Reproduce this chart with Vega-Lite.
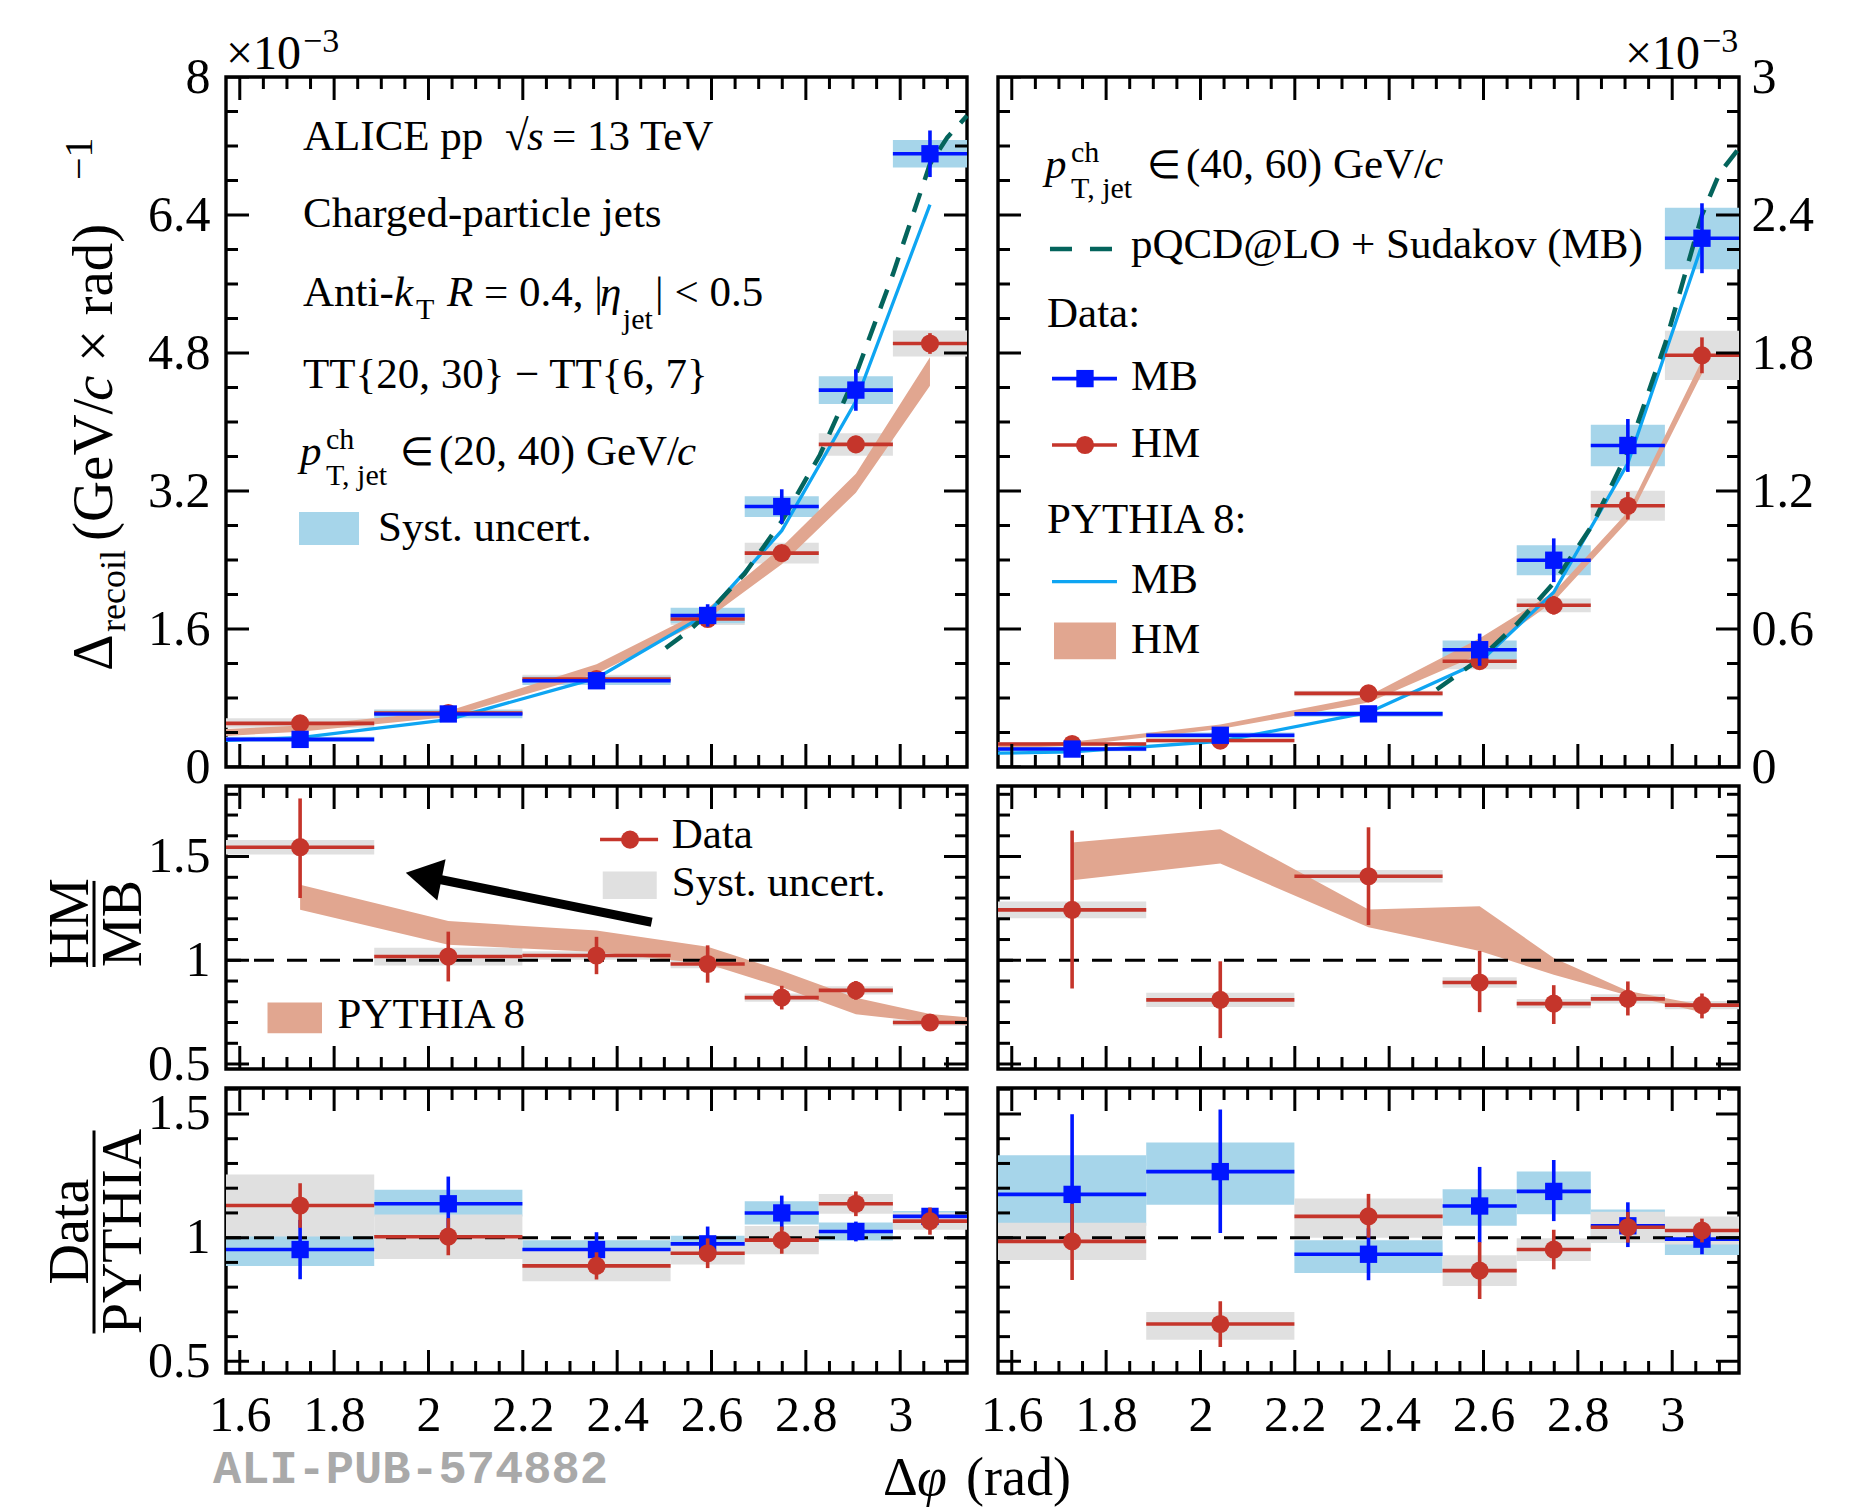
{
"$schema":"https://vega.github.io/schema/vega-lite/v6.json",
"autosize":{"type":"none"},
"padding":{"left":226,"top":77,"right":1645,"bottom":1433},
"background":"white",
"config":{
 "view":{"stroke":"#000","strokeWidth":3.4},
 "font":"Liberation Serif",
 "axis":{"labels":false,"ticks":false,"domain":false,"grid":false,"tickSize":0,"titleOpacity":0,"labelFont":"Liberation Serif","labelFontSize":50,"labelColor":"#000","labelFlush":false,"labelOverlap":false},
 "text":{"font":"Liberation Serif","color":"#000"}
},
"datasets":{
 "xt":[{"v":1.6,"k":"M"},{"v":1.65,"k":"m"},{"v":1.7,"k":"m"},{"v":1.75,"k":"m"},{"v":1.8,"k":"M"},{"v":1.85,"k":"m"},{"v":1.9,"k":"m"},{"v":1.95,"k":"m"},{"v":2.0,"k":"M"},{"v":2.05,"k":"m"},{"v":2.1,"k":"m"},{"v":2.15,"k":"m"},{"v":2.2,"k":"M"},{"v":2.25,"k":"m"},{"v":2.3,"k":"m"},{"v":2.35,"k":"m"},{"v":2.4,"k":"M"},{"v":2.45,"k":"m"},{"v":2.5,"k":"m"},{"v":2.55,"k":"m"},{"v":2.6,"k":"M"},{"v":2.65,"k":"m"},{"v":2.7,"k":"m"},{"v":2.75,"k":"m"},{"v":2.8,"k":"M"},{"v":2.85,"k":"m"},{"v":2.9,"k":"m"},{"v":2.95,"k":"m"},{"v":3.0,"k":"M"},{"v":3.05,"k":"m"},{"v":3.1,"k":"m"}],
 "ytl":[{"v":0,"k":"M"},{"v":0.4,"k":"m"},{"v":0.8,"k":"m"},{"v":1.2,"k":"m"},{"v":1.6,"k":"M"},{"v":2.0,"k":"m"},{"v":2.4,"k":"m"},{"v":2.8,"k":"m"},{"v":3.2,"k":"M"},{"v":3.6,"k":"m"},{"v":4.0,"k":"m"},{"v":4.4,"k":"m"},{"v":4.8,"k":"M"},{"v":5.2,"k":"m"},{"v":5.6,"k":"m"},{"v":6.0,"k":"m"},{"v":6.4,"k":"M"},{"v":6.8,"k":"m"},{"v":7.2,"k":"m"},{"v":7.6,"k":"m"},{"v":8,"k":"M"}],
 "ytr":[{"v":0,"k":"M"},{"v":0.15,"k":"m"},{"v":0.3,"k":"m"},{"v":0.45,"k":"m"},{"v":0.6,"k":"M"},{"v":0.75,"k":"m"},{"v":0.9,"k":"m"},{"v":1.05,"k":"m"},{"v":1.2,"k":"M"},{"v":1.35,"k":"m"},{"v":1.5,"k":"m"},{"v":1.65,"k":"m"},{"v":1.8,"k":"M"},{"v":1.95,"k":"m"},{"v":2.1,"k":"m"},{"v":2.25,"k":"m"},{"v":2.4,"k":"M"},{"v":2.55,"k":"m"},{"v":2.7,"k":"m"},{"v":2.85,"k":"m"},{"v":3,"k":"M"}],
 "yr":[{"v":0.5,"k":"M"},{"v":0.6,"k":"m"},{"v":0.7,"k":"m"},{"v":0.8,"k":"m"},{"v":0.9,"k":"m"},{"v":1,"k":"M"},{"v":1.1,"k":"m"},{"v":1.2,"k":"m"},{"v":1.3,"k":"m"},{"v":1.4,"k":"m"},{"v":1.5,"k":"M"},{"v":1.6,"k":"m"},{"v":1.7,"k":"m"},{"v":1.8,"k":"m"}],
 "one":[{"v":1}],
 "tlm":[
  {"a":1.5707963,"b":1.885,"c":1.7279,"v":0.32,"e0":0.3,"e1":0.34,"s0":0.29,"s1":0.35},
  {"a":1.885,"b":2.1991,"c":2.042,"v":0.615,"e0":0.585,"e1":0.645,"s0":0.565,"s1":0.665},
  {"a":2.1991,"b":2.5133,"c":2.3562,"v":1.0,"e0":0.96,"e1":1.04,"s0":0.95,"s1":1.05},
  {"a":2.5133,"b":2.6704,"c":2.5918,"v":1.757,"e0":1.627,"e1":1.887,"s0":1.667,"s1":1.847},
  {"a":2.6704,"b":2.8274,"c":2.7489,"v":3.02,"e0":2.82,"e1":3.22,"s0":2.9,"s1":3.14},
  {"a":2.8274,"b":2.9845,"c":2.906,"v":4.37,"e0":4.13,"e1":4.61,"s0":4.21,"s1":4.53},
  {"a":2.9845,"b":3.1415927,"c":3.0631,"v":7.11,"e0":6.84,"e1":7.38,"s0":6.95,"s1":7.27}],
 "tlh":[
  {"a":1.5707963,"b":1.885,"c":1.7279,"v":0.506,"e0":0.486,"e1":0.526,"s0":0.455,"s1":0.565},
  {"a":1.885,"b":2.1991,"c":2.042,"v":0.626,"e0":0.596,"e1":0.656,"s0":0.586,"s1":0.666},
  {"a":2.1991,"b":2.5133,"c":2.3562,"v":1.02,"e0":0.98,"e1":1.06,"s0":0.97,"s1":1.07},
  {"a":2.5133,"b":2.6704,"c":2.5918,"v":1.716,"e0":1.636,"e1":1.796,"s0":1.646,"s1":1.786},
  {"a":2.6704,"b":2.8274,"c":2.7489,"v":2.48,"e0":2.4,"e1":2.56,"s0":2.36,"s1":2.6},
  {"a":2.8274,"b":2.9845,"c":2.906,"v":3.74,"e0":3.64,"e1":3.84,"s0":3.61,"s1":3.87},
  {"a":2.9845,"b":3.1415927,"c":3.0631,"v":4.91,"e0":4.79,"e1":5.03,"s0":4.76,"s1":5.06}],
 "tlp":[
  {"x":1.5707963,"mb":0.31,"lo":0.36,"hi":0.44},
  {"x":1.7279,"mb":0.34,"lo":0.41,"hi":0.48},
  {"x":2.042,"mb":0.55,"lo":0.58,"hi":0.65},
  {"x":2.3562,"mb":1.03,"lo":1.08,"hi":1.19},
  {"x":2.5918,"mb":1.78,"lo":1.72,"hi":1.84},
  {"x":2.7489,"mb":2.74,"lo":2.35,"hi":2.55},
  {"x":2.906,"mb":4.24,"lo":3.18,"hi":3.4},
  {"x":3.0631,"mb":6.52,"lo":4.42,"hi":4.75}],
 "tlq":[{"x":2.503,"v":1.38},{"x":2.55,"v":1.57},{"x":2.5918,"v":1.78},{"x":2.67,"v":2.24},{"x":2.7489,"v":2.85},{"x":2.83,"v":3.62},{"x":2.906,"v":4.55},{"x":2.985,"v":5.72},{"x":3.0631,"v":6.99},{"x":3.1,"v":7.3},{"x":3.1415927,"v":7.55}],
 "trm":[
  {"a":1.5707963,"b":1.885,"c":1.7279,"v":0.078,"e0":0.063,"e1":0.093,"s0":0.068,"s1":0.088},
  {"a":1.885,"b":2.1991,"c":2.042,"v":0.138,"e0":0.118,"e1":0.158,"s0":0.126,"s1":0.15},
  {"a":2.1991,"b":2.5133,"c":2.3562,"v":0.231,"e0":0.211,"e1":0.251,"s0":0.219,"s1":0.243},
  {"a":2.5133,"b":2.6704,"c":2.5918,"v":0.51,"e0":0.44,"e1":0.58,"s0":0.47,"s1":0.55},
  {"a":2.6704,"b":2.8274,"c":2.7489,"v":0.899,"e0":0.804,"e1":0.994,"s0":0.834,"s1":0.964},
  {"a":2.8274,"b":2.9845,"c":2.906,"v":1.398,"e0":1.283,"e1":1.513,"s0":1.308,"s1":1.488},
  {"a":2.9845,"b":3.1415927,"c":3.0631,"v":2.299,"e0":2.147,"e1":2.451,"s0":2.164,"s1":2.432}],
 "trh":[
  {"a":1.5707963,"b":1.885,"c":1.7279,"v":0.1,"e0":0.09,"e1":0.11,"s0":0.092,"s1":0.108},
  {"a":1.885,"b":2.1991,"c":2.042,"v":0.115,"e0":0.103,"e1":0.127,"s0":0.107,"s1":0.123},
  {"a":2.1991,"b":2.5133,"c":2.3562,"v":0.32,"e0":0.3,"e1":0.34,"s0":0.308,"s1":0.332},
  {"a":2.5133,"b":2.6704,"c":2.5918,"v":0.46,"e0":0.43,"e1":0.49,"s0":0.425,"s1":0.495},
  {"a":2.6704,"b":2.8274,"c":2.7489,"v":0.703,"e0":0.663,"e1":0.743,"s0":0.673,"s1":0.733},
  {"a":2.8274,"b":2.9845,"c":2.906,"v":1.136,"e0":1.076,"e1":1.196,"s0":1.071,"s1":1.201},
  {"a":2.9845,"b":3.1415927,"c":3.0631,"v":1.79,"e0":1.712,"e1":1.868,"s0":1.683,"s1":1.897}],
 "trp":[
  {"x":1.5707963,"mb":0.06,"lo":0.08,"hi":0.098},
  {"x":1.7279,"mb":0.066,"lo":0.092,"hi":0.11},
  {"x":2.042,"mb":0.112,"lo":0.165,"hi":0.185},
  {"x":2.3562,"mb":0.237,"lo":0.28,"hi":0.31},
  {"x":2.5918,"mb":0.456,"lo":0.49,"hi":0.56},
  {"x":2.7489,"mb":0.76,"lo":0.72,"hi":0.76},
  {"x":2.906,"mb":1.32,"lo":1.07,"hi":1.11},
  {"x":3.0631,"mb":2.27,"lo":1.71,"hi":1.77}],
 "trq":[{"x":2.501,"v":0.337},{"x":2.5918,"v":0.47},{"x":2.67,"v":0.62},{"x":2.7489,"v":0.8},{"x":2.83,"v":1.05},{"x":2.906,"v":1.37},{"x":2.985,"v":1.84},{"x":3.0631,"v":2.4},{"x":3.1,"v":2.58},{"x":3.1415927,"v":2.69}],
 "ml":[
  {"a":1.5707963,"b":1.885,"c":1.7279,"v":1.545,"e0":1.3,"e1":1.78,"s0":1.51,"s1":1.58},
  {"a":1.885,"b":2.1991,"c":2.042,"v":1.018,"e0":0.898,"e1":1.138,"s0":0.975,"s1":1.061},
  {"a":2.1991,"b":2.5133,"c":2.3562,"v":1.023,"e0":0.933,"e1":1.113,"s0":1.003,"s1":1.043},
  {"a":2.5133,"b":2.6704,"c":2.5918,"v":0.982,"e0":0.892,"e1":1.072,"s0":0.962,"s1":1.002},
  {"a":2.6704,"b":2.8274,"c":2.7489,"v":0.82,"e0":0.763,"e1":0.877,"s0":0.8,"s1":0.84},
  {"a":2.8274,"b":2.9845,"c":2.906,"v":0.855,"e0":0.81,"e1":0.9,"s0":0.835,"s1":0.875},
  {"a":2.9845,"b":3.1415927,"c":3.0631,"v":0.7,"e0":0.68,"e1":0.72,"s0":0.685,"s1":0.715}],
 "mlp":[{"x":1.7279,"lo":1.243,"hi":1.364},{"x":2.042,"lo":1.075,"hi":1.189},{"x":2.3562,"lo":1.04,"hi":1.143},{"x":2.5918,"lo":0.982,"hi":1.065},{"x":2.7489,"lo":0.87,"hi":0.95},{"x":2.906,"lo":0.74,"hi":0.82},{"x":3.0631,"lo":0.7,"hi":0.741},{"x":3.1415927,"lo":0.69,"hi":0.725}],
 "mr":[
  {"a":1.5707963,"b":1.885,"c":1.7279,"v":1.243,"e0":0.864,"e1":1.625,"s0":1.203,"s1":1.283},
  {"a":1.885,"b":2.1991,"c":2.042,"v":0.809,"e0":0.625,"e1":0.995,"s0":0.775,"s1":0.843},
  {"a":2.1991,"b":2.5133,"c":2.3562,"v":1.405,"e0":1.17,"e1":1.641,"s0":1.375,"s1":1.435},
  {"a":2.5133,"b":2.6704,"c":2.5918,"v":0.893,"e0":0.75,"e1":1.045,"s0":0.868,"s1":0.918},
  {"a":2.6704,"b":2.8274,"c":2.7489,"v":0.791,"e0":0.693,"e1":0.88,"s0":0.769,"s1":0.813},
  {"a":2.8274,"b":2.9845,"c":2.906,"v":0.814,"e0":0.734,"e1":0.898,"s0":0.792,"s1":0.836},
  {"a":2.9845,"b":3.1415927,"c":3.0631,"v":0.784,"e0":0.72,"e1":0.84,"s0":0.764,"s1":0.804}],
 "mrp":[{"x":1.7279,"lo":1.386,"hi":1.568},{"x":2.042,"lo":1.466,"hi":1.632},{"x":2.3562,"lo":1.159,"hi":1.245},{"x":2.5918,"lo":1.045,"hi":1.261},{"x":2.7489,"lo":0.93,"hi":1.011},{"x":2.906,"lo":0.83,"hi":0.852},{"x":3.0631,"lo":0.75,"hi":0.784}],
 "blm":[
  {"a":1.5707963,"b":1.885,"c":1.7279,"v":0.952,"e0":0.832,"e1":1.072,"s0":0.886,"s1":1.014},
  {"a":1.885,"b":2.1991,"c":2.042,"v":1.137,"e0":1.027,"e1":1.247,"s0":1.086,"s1":1.194},
  {"a":2.1991,"b":2.5133,"c":2.3562,"v":0.952,"e0":0.882,"e1":1.022,"s0":0.914,"s1":0.99},
  {"a":2.5133,"b":2.6704,"c":2.5918,"v":0.975,"e0":0.905,"e1":1.045,"s0":0.942,"s1":1.008},
  {"a":2.6704,"b":2.8274,"c":2.7489,"v":1.1,"e0":1.03,"e1":1.17,"s0":1.053,"s1":1.147},
  {"a":2.8274,"b":2.9845,"c":2.906,"v":1.025,"e0":0.985,"e1":1.065,"s0":0.989,"s1":1.061},
  {"a":2.9845,"b":3.1415927,"c":3.0631,"v":1.086,"e0":1.056,"e1":1.116,"s0":1.064,"s1":1.108}],
 "blh":[
  {"a":1.5707963,"b":1.885,"c":1.7279,"v":1.13,"e0":1.04,"e1":1.22,"s0":1.005,"s1":1.255},
  {"a":1.885,"b":2.1991,"c":2.042,"v":1.004,"e0":0.929,"e1":1.079,"s0":0.914,"s1":1.094},
  {"a":2.1991,"b":2.5133,"c":2.3562,"v":0.886,"e0":0.831,"e1":0.941,"s0":0.824,"s1":0.948},
  {"a":2.5133,"b":2.6704,"c":2.5918,"v":0.937,"e0":0.877,"e1":0.997,"s0":0.892,"s1":0.982},
  {"a":2.6704,"b":2.8274,"c":2.7489,"v":0.99,"e0":0.935,"e1":1.045,"s0":0.933,"s1":1.047},
  {"a":2.8274,"b":2.9845,"c":2.906,"v":1.137,"e0":1.087,"e1":1.187,"s0":1.097,"s1":1.177},
  {"a":2.9845,"b":3.1415927,"c":3.0631,"v":1.067,"e0":1.012,"e1":1.122,"s0":1.032,"s1":1.102}],
 "brm":[
  {"a":1.5707963,"b":1.885,"c":1.7279,"v":1.175,"e0":0.981,"e1":1.499,"s0":1.048,"s1":1.333},
  {"a":1.885,"b":2.1991,"c":2.042,"v":1.267,"e0":1.019,"e1":1.518,"s0":1.133,"s1":1.385},
  {"a":2.1991,"b":2.5133,"c":2.3562,"v":0.933,"e0":0.828,"e1":1.038,"s0":0.857,"s1":0.99},
  {"a":2.5133,"b":2.6704,"c":2.5918,"v":1.128,"e0":0.98,"e1":1.286,"s0":1.048,"s1":1.196},
  {"a":2.6704,"b":2.8274,"c":2.7489,"v":1.187,"e0":1.067,"e1":1.314,"s0":1.095,"s1":1.267},
  {"a":2.8274,"b":2.9845,"c":2.906,"v":1.048,"e0":0.962,"e1":1.143,"s0":0.981,"s1":1.114},
  {"a":2.9845,"b":3.1415927,"c":3.0631,"v":0.994,"e0":0.933,"e1":1.03,"s0":0.93,"s1":1.042}],
 "brh":[
  {"a":1.5707963,"b":1.885,"c":1.7279,"v":0.985,"e0":0.829,"e1":1.137,"s0":0.91,"s1":1.06},
  {"a":1.885,"b":2.1991,"c":2.042,"v":0.651,"e0":0.558,"e1":0.743,"s0":0.587,"s1":0.7},
  {"a":2.1991,"b":2.5133,"c":2.3562,"v":1.086,"e0":1.0,"e1":1.177,"s0":1.0,"s1":1.158},
  {"a":2.5133,"b":2.6704,"c":2.5918,"v":0.867,"e0":0.752,"e1":0.982,"s0":0.805,"s1":0.929},
  {"a":2.6704,"b":2.8274,"c":2.7489,"v":0.952,"e0":0.872,"e1":1.032,"s0":0.906,"s1":0.998},
  {"a":2.8274,"b":2.9845,"c":2.906,"v":1.042,"e0":0.98,"e1":1.104,"s0":0.979,"s1":1.105},
  {"a":2.9845,"b":3.1415927,"c":3.0631,"v":1.029,"e0":0.981,"e1":1.077,"s0":0.972,"s1":1.086}],
 "tl_r":[{"x":1.734,"y":7.148,"t":"ALICE pp"},{"x":2.1623,"y":7.148,"t":"√"},{"x":2.2619,"y":7.148,"t":"= 13 TeV"},{"x":1.734,"y":6.261,"t":"Charged-particle jets"},{"x":1.734,"y":5.345,"t":"Anti-"},{"x":2.1178,"y":5.345,"t":"= 0.4, |"},{"x":2.4803,"y":5.345,"t":"| < 0.5"},{"x":1.734,"y":4.397,"t":"TT{20, 30} − TT{6, 7}"},{"x":2.0223,"y":3.501,"t":"(20, 40) GeV/"},{"x":1.893,"y":2.62,"t":"Syst. uncert."}],
 "tl_sym":[{"x":1.9397,"y":3.501,"t":"∈"}],
 "tl_i":[{"x":2.2089,"y":7.148,"t":"s"},{"x":1.927,"y":5.345,"t":"k"},{"x":2.0393,"y":5.345,"t":"R"},{"x":2.3637,"y":5.345,"t":"η"},{"x":1.7277,"y":3.501,"t":"p"},{"x":2.5266,"y":3.501,"t":"c"}],
 "tl_s":[{"x":1.9736,"y":5.194,"t":"T"},{"x":2.412,"y":5.078,"t":"jet"},{"x":1.7828,"y":3.687,"t":"ch"},{"x":1.7828,"y":3.27,"t":"T, jet"}],
 "tl_box":[{"x0":1.7256,"x1":1.8528,"y0":2.574,"y1":2.957}],
 "tl_eb":[{"x":1.5708,"y":8.089,"t":"×10"}],
 "tl_es":[{"x":1.734,"y":8.293,"t":"−3"}],
 "ax_r":[{"x":1.3291,"y":1.113,"t":"Δ"},{"x":1.3291,"y":2.62,"t":"(GeV/"},{"x":1.3291,"y":4.696,"t":"× rad)"}],
 "ax_i":[{"x":1.3291,"y":4.243,"t":"c"}],
 "ax_s":[{"x":1.3567,"y":1.565,"t":"recoil"}],
 "ax_sup":[{"x":1.2868,"y":6.806,"t":"−1"}],
 "tr_r":[{"x":1.9693,"y":2.561,"t":"(40, 60) GeV/"},{"x":1.8528,"y":2.213,"t":"pQCD@LO + Sudakov (MB)"},{"x":1.6747,"y":1.915,"t":"Data:"},{"x":1.8528,"y":1.639,"t":"MB"},{"x":1.8528,"y":1.3496,"t":"HM"},{"x":1.6747,"y":1.017,"t":"PYTHIA 8:"},{"x":1.8528,"y":0.7565,"t":"MB"},{"x":1.8528,"y":0.4957,"t":"HM"}],
 "tr_sym":[{"x":1.8867,"y":2.561,"t":"∈"}],
 "tr_i":[{"x":1.6704,"y":2.561,"t":"p"},{"x":2.4739,"y":2.561,"t":"c"}],
 "tr_s":[{"x":1.7256,"y":2.63,"t":"ch"},{"x":1.7256,"y":2.474,"t":"T, jet"}],
 "tr_eb":[{"x":2.9,"y":3.0335,"t":"×10"}],
 "tr_es":[{"x":3.0633,"y":3.11,"t":"−3"}],
 "trl_q":[{"x0":1.681,"x1":1.8167,"y":2.252}],
 "trl_mb":[{"x0":1.6853,"x1":1.823,"xc":1.7552,"y":1.6887}],
 "trl_hm":[{"x0":1.6853,"x1":1.823,"xc":1.7552,"y":1.4}],
 "trl_pmb":[{"x0":1.6853,"x1":1.823,"y":0.8061}],
 "trl_phm":[{"x0":1.6895,"x1":1.821,"y0":0.4687,"y1":0.6287}],
 "ml_r":[{"x":2.5157,"y":1.5417,"t":"Data"},{"x":2.5157,"y":1.3116,"t":"Syst. uncert."},{"x":1.8072,"y":0.6753,"t":"PYTHIA 8"}],
 "mll_d":[{"x0":2.3637,"x1":2.4867,"xc":2.4273,"y":1.5818}],
 "mll_s":[{"x0":2.3694,"x1":2.4839,"y0":1.2957,"y1":1.4274}],
 "mll_p":[{"x0":1.6588,"x1":1.7743,"y0":0.6478,"y1":0.796}],
 "arr_s":[{"x0":2.4731,"y0":1.1833,"x1":2.0033,"y1":1.399}],
 "arr_h":[{"x":1.9897,"y":1.4047}],
 "mf":[{"x":1.2772,"y":1.1775,"t":"HM"},{"x":1.3898,"y":1.1775,"t":"MB"}],
 "mfl":[{"x":1.291,"y0":0.9677,"y1":1.3825}],
 "bf":[{"x":1.2772,"y":1.0247,"t":"Data"},{"x":1.3898,"y":1.0247,"t":"PYTHIA"}],
 "bfl":[{"x":1.291,"y0":0.6125,"y1":1.4333}],
 "xt_r":[{"x":2.9636,"y":-0.0393,"t":"Δ"},{"x":3.1396,"y":-0.0393,"t":"(rad)"}],
 "xt_i":[{"x":3.0357,"y":-0.0393,"t":"φ"}],
 "ali":[{"x":1.5432,"y":0.0094,"t":"ALI-PUB-574882"}]
},
"columns":2,
"spacing":{"row":19,"column":31},
"bounds":"flush",
"concat":[
{"width":741,"height":690,"layer":[
 {"data":{"name":"tlh"},"mark":{"type":"rect","color":"#e0e0e0"},"encoding":{"x":{"field":"a","type":"quantitative","scale":{"domain":[1.5707963,3.1415927],"nice":false,"zero":false},"axis":{"title":null}},"x2":{"field":"b"},"y":{"field":"s0","type":"quantitative","scale":{"domain":[0,8],"nice":false,"zero":false},"axis":{"title":null,"labels":true,"values":[0,1.6,3.2,4.8,6.4,8],"format":"~g","labelPadding":16}},"y2":{"field":"s1"}}},
 {"data":{"name":"tlm"},"mark":{"type":"rect","color":"#a6d5ea"},"encoding":{"x":{"field":"a","type":"quantitative"},"x2":{"field":"b"},"y":{"field":"s0","type":"quantitative"},"y2":{"field":"s1"}}},
 {"data":{"name":"tlp"},"mark":{"type":"area","color":"#e1a690","opacity":1},"encoding":{"x":{"field":"x","type":"quantitative"},"y":{"field":"lo","type":"quantitative"},"y2":{"field":"hi"}}},
 {"data":{"name":"tlp"},"mark":{"type":"line","color":"#0ea5f2","strokeWidth":3.3},"encoding":{"x":{"field":"x","type":"quantitative"},"y":{"field":"mb","type":"quantitative"}}},
 {"data":{"name":"tlq"},"mark":{"type":"line","color":"#04645c","strokeWidth":4.5,"strokeDash":[20,14]},"encoding":{"x":{"field":"x","type":"quantitative"},"y":{"field":"v","type":"quantitative"}}},
 {"data":{"name":"tlh"},"mark":{"type":"rule","color":"#c5352b","strokeWidth":3.6},"encoding":{"x":{"field":"a","type":"quantitative"},"x2":{"field":"b"},"y":{"field":"v","type":"quantitative"}}},
 {"data":{"name":"tlh"},"mark":{"type":"rule","color":"#c5352b","strokeWidth":3.6},"encoding":{"x":{"field":"c","type":"quantitative"},"y":{"field":"e0","type":"quantitative"},"y2":{"field":"e1"}}},
 {"data":{"name":"tlh"},"mark":{"type":"point","shape":"circle","filled":true,"size":330,"opacity":1,"color":"#c5352b"},"encoding":{"x":{"field":"c","type":"quantitative"},"y":{"field":"v","type":"quantitative"}}},
 {"data":{"name":"tlm"},"mark":{"type":"rule","color":"#0016ff","strokeWidth":3.6},"encoding":{"x":{"field":"a","type":"quantitative"},"x2":{"field":"b"},"y":{"field":"v","type":"quantitative"}}},
 {"data":{"name":"tlm"},"mark":{"type":"rule","color":"#0016ff","strokeWidth":3.6},"encoding":{"x":{"field":"c","type":"quantitative"},"y":{"field":"e0","type":"quantitative"},"y2":{"field":"e1"}}},
 {"data":{"name":"tlm"},"mark":{"type":"point","shape":"square","filled":true,"size":300,"opacity":1,"color":"#0016ff"},"encoding":{"x":{"field":"c","type":"quantitative"},"y":{"field":"v","type":"quantitative"}}},
 {"data":{"name":"tl_box"},"mark":{"type":"rect","color":"#a6d5ea"},"encoding":{"x":{"field":"x0","type":"quantitative"},"x2":{"field":"x1"},"y":{"field":"y0","type":"quantitative"},"y2":{"field":"y1"}}},
 {"data":{"name":"tl_r"},"mark":{"type":"text","fontSize":43,"align":"left","baseline":"alphabetic"},"encoding":{"x":{"field":"x","type":"quantitative"},"y":{"field":"y","type":"quantitative"},"text":{"field":"t","type":"nominal"}}},
 {"data":{"name":"tl_sym"},"mark":{"type":"text","fontSize":39,"align":"left","baseline":"alphabetic"},"encoding":{"x":{"field":"x","type":"quantitative"},"y":{"field":"y","type":"quantitative"},"text":{"field":"t","type":"nominal"}}},
 {"data":{"name":"tl_i"},"mark":{"type":"text","fontSize":43,"fontStyle":"italic","align":"left","baseline":"alphabetic"},"encoding":{"x":{"field":"x","type":"quantitative"},"y":{"field":"y","type":"quantitative"},"text":{"field":"t","type":"nominal"}}},
 {"data":{"name":"tl_s"},"mark":{"type":"text","fontSize":30,"align":"left","baseline":"alphabetic"},"encoding":{"x":{"field":"x","type":"quantitative"},"y":{"field":"y","type":"quantitative"},"text":{"field":"t","type":"nominal"}}},
 {"data":{"name":"tl_eb"},"mark":{"type":"text","fontSize":48,"align":"left","baseline":"alphabetic"},"encoding":{"x":{"field":"x","type":"quantitative"},"y":{"field":"y","type":"quantitative"},"text":{"field":"t","type":"nominal"}}},
 {"data":{"name":"tl_es"},"mark":{"type":"text","fontSize":34,"align":"left","baseline":"alphabetic"},"encoding":{"x":{"field":"x","type":"quantitative"},"y":{"field":"y","type":"quantitative"},"text":{"field":"t","type":"nominal"}}},
 {"data":{"name":"ax_r"},"mark":{"type":"text","fontSize":57,"angle":270,"align":"left","baseline":"alphabetic"},"encoding":{"x":{"field":"x","type":"quantitative"},"y":{"field":"y","type":"quantitative"},"text":{"field":"t","type":"nominal"}}},
 {"data":{"name":"ax_i"},"mark":{"type":"text","fontSize":57,"fontStyle":"italic","angle":270,"align":"left","baseline":"alphabetic"},"encoding":{"x":{"field":"x","type":"quantitative"},"y":{"field":"y","type":"quantitative"},"text":{"field":"t","type":"nominal"}}},
 {"data":{"name":"ax_s"},"mark":{"type":"text","fontSize":36,"angle":270,"align":"left","baseline":"alphabetic"},"encoding":{"x":{"field":"x","type":"quantitative"},"y":{"field":"y","type":"quantitative"},"text":{"field":"t","type":"nominal"}}},
 {"data":{"name":"ax_sup"},"mark":{"type":"text","fontSize":40,"angle":270,"align":"left","baseline":"alphabetic"},"encoding":{"x":{"field":"x","type":"quantitative"},"y":{"field":"y","type":"quantitative"},"text":{"field":"t","type":"nominal"}}},
 {"data":{"name":"xt"},"mark":{"type":"tick","orient":"vertical","thickness":3,"clip":true,"color":"#000","opacity":1},"encoding":{"x":{"field":"v","type":"quantitative"},"y":{"datum":0,"type":"quantitative"},"size":{"field":"k","type":"ordinal","scale":{"domain":["M","m"],"range":[46,24]},"legend":null}}},
 {"data":{"name":"xt"},"mark":{"type":"tick","orient":"vertical","thickness":3,"clip":true,"color":"#000","opacity":1},"encoding":{"x":{"field":"v","type":"quantitative"},"y":{"datum":8,"type":"quantitative"},"size":{"field":"k","type":"ordinal","legend":null}}},
 {"data":{"name":"ytl"},"mark":{"type":"tick","orient":"horizontal","thickness":3,"clip":true,"color":"#000","opacity":1},"encoding":{"y":{"field":"v","type":"quantitative"},"x":{"datum":1.5707963,"type":"quantitative"},"size":{"field":"k","type":"ordinal","legend":null}}},
 {"data":{"name":"ytl"},"mark":{"type":"tick","orient":"horizontal","thickness":3,"clip":true,"color":"#000","opacity":1},"encoding":{"y":{"field":"v","type":"quantitative"},"x":{"datum":3.1415927,"type":"quantitative"},"size":{"field":"k","type":"ordinal","legend":null}}}
]},
{"width":741,"height":690,"layer":[
 {"data":{"name":"trh"},"mark":{"type":"rect","color":"#e0e0e0"},"encoding":{"x":{"field":"a","type":"quantitative","scale":{"domain":[1.5707963,3.1415927],"nice":false,"zero":false},"axis":{"title":null}},"x2":{"field":"b"},"y":{"field":"s0","type":"quantitative","scale":{"domain":[0,3],"nice":false,"zero":false},"axis":{"title":null,"labels":true,"orient":"right","values":[0,0.6,1.2,1.8,2.4,3],"format":"~g","labelPadding":12}},"y2":{"field":"s1"}}},
 {"data":{"name":"trm"},"mark":{"type":"rect","color":"#a6d5ea"},"encoding":{"x":{"field":"a","type":"quantitative"},"x2":{"field":"b"},"y":{"field":"s0","type":"quantitative"},"y2":{"field":"s1"}}},
 {"data":{"name":"trp"},"mark":{"type":"area","color":"#e1a690","opacity":1},"encoding":{"x":{"field":"x","type":"quantitative"},"y":{"field":"lo","type":"quantitative"},"y2":{"field":"hi"}}},
 {"data":{"name":"trp"},"mark":{"type":"line","color":"#0ea5f2","strokeWidth":3.3},"encoding":{"x":{"field":"x","type":"quantitative"},"y":{"field":"mb","type":"quantitative"}}},
 {"data":{"name":"trq"},"mark":{"type":"line","color":"#04645c","strokeWidth":4.5,"strokeDash":[20,14]},"encoding":{"x":{"field":"x","type":"quantitative"},"y":{"field":"v","type":"quantitative"}}},
 {"data":{"name":"trh"},"mark":{"type":"rule","color":"#c5352b","strokeWidth":3.6},"encoding":{"x":{"field":"a","type":"quantitative"},"x2":{"field":"b"},"y":{"field":"v","type":"quantitative"}}},
 {"data":{"name":"trh"},"mark":{"type":"rule","color":"#c5352b","strokeWidth":3.6},"encoding":{"x":{"field":"c","type":"quantitative"},"y":{"field":"e0","type":"quantitative"},"y2":{"field":"e1"}}},
 {"data":{"name":"trh"},"mark":{"type":"point","shape":"circle","filled":true,"size":330,"opacity":1,"color":"#c5352b"},"encoding":{"x":{"field":"c","type":"quantitative"},"y":{"field":"v","type":"quantitative"}}},
 {"data":{"name":"trm"},"mark":{"type":"rule","color":"#0016ff","strokeWidth":3.6},"encoding":{"x":{"field":"a","type":"quantitative"},"x2":{"field":"b"},"y":{"field":"v","type":"quantitative"}}},
 {"data":{"name":"trm"},"mark":{"type":"rule","color":"#0016ff","strokeWidth":3.6},"encoding":{"x":{"field":"c","type":"quantitative"},"y":{"field":"e0","type":"quantitative"},"y2":{"field":"e1"}}},
 {"data":{"name":"trm"},"mark":{"type":"point","shape":"square","filled":true,"size":300,"opacity":1,"color":"#0016ff"},"encoding":{"x":{"field":"c","type":"quantitative"},"y":{"field":"v","type":"quantitative"}}},
 {"data":{"name":"trl_q"},"mark":{"type":"rule","color":"#04645c","strokeWidth":4.5,"strokeDash":[22,18]},"encoding":{"x":{"field":"x0","type":"quantitative"},"x2":{"field":"x1"},"y":{"field":"y","type":"quantitative"}}},
 {"data":{"name":"trl_mb"},"mark":{"type":"rule","color":"#0016ff","strokeWidth":3.6},"encoding":{"x":{"field":"x0","type":"quantitative"},"x2":{"field":"x1"},"y":{"field":"y","type":"quantitative"}}},
 {"data":{"name":"trl_mb"},"mark":{"type":"point","shape":"square","filled":true,"size":300,"opacity":1,"color":"#0016ff"},"encoding":{"x":{"field":"xc","type":"quantitative"},"y":{"field":"y","type":"quantitative"}}},
 {"data":{"name":"trl_hm"},"mark":{"type":"rule","color":"#c5352b","strokeWidth":3.6},"encoding":{"x":{"field":"x0","type":"quantitative"},"x2":{"field":"x1"},"y":{"field":"y","type":"quantitative"}}},
 {"data":{"name":"trl_hm"},"mark":{"type":"point","shape":"circle","filled":true,"size":330,"opacity":1,"color":"#c5352b"},"encoding":{"x":{"field":"xc","type":"quantitative"},"y":{"field":"y","type":"quantitative"}}},
 {"data":{"name":"trl_pmb"},"mark":{"type":"rule","color":"#0ea5f2","strokeWidth":3.3},"encoding":{"x":{"field":"x0","type":"quantitative"},"x2":{"field":"x1"},"y":{"field":"y","type":"quantitative"}}},
 {"data":{"name":"trl_phm"},"mark":{"type":"rect","color":"#e1a690"},"encoding":{"x":{"field":"x0","type":"quantitative"},"x2":{"field":"x1"},"y":{"field":"y0","type":"quantitative"},"y2":{"field":"y1"}}},
 {"data":{"name":"tr_r"},"mark":{"type":"text","fontSize":43,"align":"left","baseline":"alphabetic"},"encoding":{"x":{"field":"x","type":"quantitative"},"y":{"field":"y","type":"quantitative"},"text":{"field":"t","type":"nominal"}}},
 {"data":{"name":"tr_sym"},"mark":{"type":"text","fontSize":39,"align":"left","baseline":"alphabetic"},"encoding":{"x":{"field":"x","type":"quantitative"},"y":{"field":"y","type":"quantitative"},"text":{"field":"t","type":"nominal"}}},
 {"data":{"name":"tr_i"},"mark":{"type":"text","fontSize":43,"fontStyle":"italic","align":"left","baseline":"alphabetic"},"encoding":{"x":{"field":"x","type":"quantitative"},"y":{"field":"y","type":"quantitative"},"text":{"field":"t","type":"nominal"}}},
 {"data":{"name":"tr_s"},"mark":{"type":"text","fontSize":30,"align":"left","baseline":"alphabetic"},"encoding":{"x":{"field":"x","type":"quantitative"},"y":{"field":"y","type":"quantitative"},"text":{"field":"t","type":"nominal"}}},
 {"data":{"name":"tr_eb"},"mark":{"type":"text","fontSize":48,"align":"left","baseline":"alphabetic"},"encoding":{"x":{"field":"x","type":"quantitative"},"y":{"field":"y","type":"quantitative"},"text":{"field":"t","type":"nominal"}}},
 {"data":{"name":"tr_es"},"mark":{"type":"text","fontSize":34,"align":"left","baseline":"alphabetic"},"encoding":{"x":{"field":"x","type":"quantitative"},"y":{"field":"y","type":"quantitative"},"text":{"field":"t","type":"nominal"}}},
 {"data":{"name":"xt"},"mark":{"type":"tick","orient":"vertical","thickness":3,"clip":true,"color":"#000","opacity":1},"encoding":{"x":{"field":"v","type":"quantitative"},"y":{"datum":0,"type":"quantitative"},"size":{"field":"k","type":"ordinal","scale":{"domain":["M","m"],"range":[46,24]},"legend":null}}},
 {"data":{"name":"xt"},"mark":{"type":"tick","orient":"vertical","thickness":3,"clip":true,"color":"#000","opacity":1},"encoding":{"x":{"field":"v","type":"quantitative"},"y":{"datum":3,"type":"quantitative"},"size":{"field":"k","type":"ordinal","legend":null}}},
 {"data":{"name":"ytr"},"mark":{"type":"tick","orient":"horizontal","thickness":3,"clip":true,"color":"#000","opacity":1},"encoding":{"y":{"field":"v","type":"quantitative"},"x":{"datum":1.5707963,"type":"quantitative"},"size":{"field":"k","type":"ordinal","legend":null}}},
 {"data":{"name":"ytr"},"mark":{"type":"tick","orient":"horizontal","thickness":3,"clip":true,"color":"#000","opacity":1},"encoding":{"y":{"field":"v","type":"quantitative"},"x":{"datum":3.1415927,"type":"quantitative"},"size":{"field":"k","type":"ordinal","legend":null}}}
]},
{"width":741,"height":283,"layer":[
 {"data":{"name":"ml"},"mark":{"type":"rect","color":"#e0e0e0"},"encoding":{"x":{"field":"a","type":"quantitative","scale":{"domain":[1.5707963,3.1415927],"nice":false,"zero":false},"axis":{"title":null}},"x2":{"field":"b"},"y":{"field":"s0","type":"quantitative","scale":{"domain":[0.476,1.84],"nice":false,"zero":false},"axis":{"title":null,"labels":true,"values":[0.5,1,1.5],"format":"~g","labelPadding":16}},"y2":{"field":"s1"}}},
 {"data":{"name":"mlp"},"mark":{"type":"area","color":"#e1a690","opacity":1},"encoding":{"x":{"field":"x","type":"quantitative"},"y":{"field":"lo","type":"quantitative"},"y2":{"field":"hi"}}},
 {"data":{"name":"one"},"mark":{"type":"rule","color":"#000","strokeWidth":3,"strokeDash":[20,13]},"encoding":{"y":{"field":"v","type":"quantitative"}}},
 {"data":{"name":"ml"},"mark":{"type":"rule","color":"#c5352b","strokeWidth":3.6},"encoding":{"x":{"field":"a","type":"quantitative"},"x2":{"field":"b"},"y":{"field":"v","type":"quantitative"}}},
 {"data":{"name":"ml"},"mark":{"type":"rule","color":"#c5352b","strokeWidth":3.6},"encoding":{"x":{"field":"c","type":"quantitative"},"y":{"field":"e0","type":"quantitative"},"y2":{"field":"e1"}}},
 {"data":{"name":"ml"},"mark":{"type":"point","shape":"circle","filled":true,"size":330,"opacity":1,"color":"#c5352b"},"encoding":{"x":{"field":"c","type":"quantitative"},"y":{"field":"v","type":"quantitative"}}},
 {"data":{"name":"mll_s"},"mark":{"type":"rect","color":"#e0e0e0"},"encoding":{"x":{"field":"x0","type":"quantitative"},"x2":{"field":"x1"},"y":{"field":"y0","type":"quantitative"},"y2":{"field":"y1"}}},
 {"data":{"name":"mll_p"},"mark":{"type":"rect","color":"#e1a690"},"encoding":{"x":{"field":"x0","type":"quantitative"},"x2":{"field":"x1"},"y":{"field":"y0","type":"quantitative"},"y2":{"field":"y1"}}},
 {"data":{"name":"mll_d"},"mark":{"type":"rule","color":"#c5352b","strokeWidth":3.6},"encoding":{"x":{"field":"x0","type":"quantitative"},"x2":{"field":"x1"},"y":{"field":"y","type":"quantitative"}}},
 {"data":{"name":"mll_d"},"mark":{"type":"point","shape":"circle","filled":true,"size":330,"opacity":1,"color":"#c5352b"},"encoding":{"x":{"field":"xc","type":"quantitative"},"y":{"field":"y","type":"quantitative"}}},
 {"data":{"name":"ml_r"},"mark":{"type":"text","fontSize":43,"align":"left","baseline":"alphabetic"},"encoding":{"x":{"field":"x","type":"quantitative"},"y":{"field":"y","type":"quantitative"},"text":{"field":"t","type":"nominal"}}},
 {"data":{"name":"arr_s"},"mark":{"type":"rule","color":"#000","strokeWidth":9},"encoding":{"x":{"field":"x0","type":"quantitative"},"y":{"field":"y0","type":"quantitative"},"x2":{"field":"x1"},"y2":{"field":"y1"}}},
 {"data":{"name":"arr_h"},"mark":{"type":"point","shape":"triangle-left","filled":true,"size":1764,"angle":11.4,"opacity":1,"color":"#000"},"encoding":{"x":{"field":"x","type":"quantitative"},"y":{"field":"y","type":"quantitative"}}},
 {"data":{"name":"mf"},"mark":{"type":"text","fontSize":56,"angle":270,"align":"center","baseline":"alphabetic"},"encoding":{"x":{"field":"x","type":"quantitative"},"y":{"field":"y","type":"quantitative"},"text":{"field":"t","type":"nominal"}}},
 {"data":{"name":"mfl"},"mark":{"type":"rule","color":"#000","strokeWidth":3},"encoding":{"x":{"field":"x","type":"quantitative"},"y":{"field":"y0","type":"quantitative"},"y2":{"field":"y1"}}},
 {"data":{"name":"xt"},"mark":{"type":"tick","orient":"vertical","thickness":3,"clip":true,"color":"#000","opacity":1},"encoding":{"x":{"field":"v","type":"quantitative"},"y":{"datum":0.476,"type":"quantitative"},"size":{"field":"k","type":"ordinal","scale":{"domain":["M","m"],"range":[44,22]},"legend":null}}},
 {"data":{"name":"xt"},"mark":{"type":"tick","orient":"vertical","thickness":3,"clip":true,"color":"#000","opacity":1},"encoding":{"x":{"field":"v","type":"quantitative"},"y":{"datum":1.84,"type":"quantitative"},"size":{"field":"k","type":"ordinal","legend":null}}},
 {"data":{"name":"yr"},"mark":{"type":"tick","orient":"horizontal","thickness":3,"clip":true,"color":"#000","opacity":1},"encoding":{"y":{"field":"v","type":"quantitative"},"x":{"datum":1.5707963,"type":"quantitative"},"size":{"field":"k","type":"ordinal","legend":null}}},
 {"data":{"name":"yr"},"mark":{"type":"tick","orient":"horizontal","thickness":3,"clip":true,"color":"#000","opacity":1},"encoding":{"y":{"field":"v","type":"quantitative"},"x":{"datum":3.1415927,"type":"quantitative"},"size":{"field":"k","type":"ordinal","legend":null}}}
]},
{"width":741,"height":283,"layer":[
 {"data":{"name":"mr"},"mark":{"type":"rect","color":"#e0e0e0"},"encoding":{"x":{"field":"a","type":"quantitative","scale":{"domain":[1.5707963,3.1415927],"nice":false,"zero":false},"axis":{"title":null}},"x2":{"field":"b"},"y":{"field":"s0","type":"quantitative","scale":{"domain":[0.476,1.84],"nice":false,"zero":false},"axis":{"title":null}},"y2":{"field":"s1"}}},
 {"data":{"name":"mrp"},"mark":{"type":"area","color":"#e1a690","opacity":1},"encoding":{"x":{"field":"x","type":"quantitative"},"y":{"field":"lo","type":"quantitative"},"y2":{"field":"hi"}}},
 {"data":{"name":"one"},"mark":{"type":"rule","color":"#000","strokeWidth":3,"strokeDash":[20,13]},"encoding":{"y":{"field":"v","type":"quantitative"}}},
 {"data":{"name":"mr"},"mark":{"type":"rule","color":"#c5352b","strokeWidth":3.6},"encoding":{"x":{"field":"a","type":"quantitative"},"x2":{"field":"b"},"y":{"field":"v","type":"quantitative"}}},
 {"data":{"name":"mr"},"mark":{"type":"rule","color":"#c5352b","strokeWidth":3.6},"encoding":{"x":{"field":"c","type":"quantitative"},"y":{"field":"e0","type":"quantitative"},"y2":{"field":"e1"}}},
 {"data":{"name":"mr"},"mark":{"type":"point","shape":"circle","filled":true,"size":330,"opacity":1,"color":"#c5352b"},"encoding":{"x":{"field":"c","type":"quantitative"},"y":{"field":"v","type":"quantitative"}}},
 {"data":{"name":"xt"},"mark":{"type":"tick","orient":"vertical","thickness":3,"clip":true,"color":"#000","opacity":1},"encoding":{"x":{"field":"v","type":"quantitative"},"y":{"datum":0.476,"type":"quantitative"},"size":{"field":"k","type":"ordinal","scale":{"domain":["M","m"],"range":[44,22]},"legend":null}}},
 {"data":{"name":"xt"},"mark":{"type":"tick","orient":"vertical","thickness":3,"clip":true,"color":"#000","opacity":1},"encoding":{"x":{"field":"v","type":"quantitative"},"y":{"datum":1.84,"type":"quantitative"},"size":{"field":"k","type":"ordinal","legend":null}}},
 {"data":{"name":"yr"},"mark":{"type":"tick","orient":"horizontal","thickness":3,"clip":true,"color":"#000","opacity":1},"encoding":{"y":{"field":"v","type":"quantitative"},"x":{"datum":1.5707963,"type":"quantitative"},"size":{"field":"k","type":"ordinal","legend":null}}},
 {"data":{"name":"yr"},"mark":{"type":"tick","orient":"horizontal","thickness":3,"clip":true,"color":"#000","opacity":1},"encoding":{"y":{"field":"v","type":"quantitative"},"x":{"datum":3.1415927,"type":"quantitative"},"size":{"field":"k","type":"ordinal","legend":null}}}
]},
{"width":741,"height":285,"layer":[
 {"data":{"name":"blm"},"mark":{"type":"rect","color":"#a6d5ea"},"encoding":{"x":{"field":"a","type":"quantitative","scale":{"domain":[1.5707963,3.1415927],"nice":false,"zero":false},"axis":{"title":null,"labels":true,"values":[1.6,1.8,2,2.2,2.4,2.6,2.8,3],"format":"~g","labelPadding":17}},"x2":{"field":"b"},"y":{"field":"s0","type":"quantitative","scale":{"domain":[0.453,1.605],"nice":false,"zero":false},"axis":{"title":null,"labels":true,"values":[0.5,1,1.5],"format":"~g","labelPadding":16}},"y2":{"field":"s1"}}},
 {"data":{"name":"blh"},"mark":{"type":"rect","color":"#e0e0e0"},"encoding":{"x":{"field":"a","type":"quantitative"},"x2":{"field":"b"},"y":{"field":"s0","type":"quantitative"},"y2":{"field":"s1"}}},
 {"data":{"name":"one"},"mark":{"type":"rule","color":"#000","strokeWidth":3,"strokeDash":[20,13]},"encoding":{"y":{"field":"v","type":"quantitative"}}},
 {"data":{"name":"blm"},"mark":{"type":"rule","color":"#0016ff","strokeWidth":3.6},"encoding":{"x":{"field":"a","type":"quantitative"},"x2":{"field":"b"},"y":{"field":"v","type":"quantitative"}}},
 {"data":{"name":"blm"},"mark":{"type":"rule","color":"#0016ff","strokeWidth":3.6},"encoding":{"x":{"field":"c","type":"quantitative"},"y":{"field":"e0","type":"quantitative"},"y2":{"field":"e1"}}},
 {"data":{"name":"blm"},"mark":{"type":"point","shape":"square","filled":true,"size":300,"opacity":1,"color":"#0016ff"},"encoding":{"x":{"field":"c","type":"quantitative"},"y":{"field":"v","type":"quantitative"}}},
 {"data":{"name":"blh"},"mark":{"type":"rule","color":"#c5352b","strokeWidth":3.6},"encoding":{"x":{"field":"a","type":"quantitative"},"x2":{"field":"b"},"y":{"field":"v","type":"quantitative"}}},
 {"data":{"name":"blh"},"mark":{"type":"rule","color":"#c5352b","strokeWidth":3.6},"encoding":{"x":{"field":"c","type":"quantitative"},"y":{"field":"e0","type":"quantitative"},"y2":{"field":"e1"}}},
 {"data":{"name":"blh"},"mark":{"type":"point","shape":"circle","filled":true,"size":330,"opacity":1,"color":"#c5352b"},"encoding":{"x":{"field":"c","type":"quantitative"},"y":{"field":"v","type":"quantitative"}}},
 {"data":{"name":"bf"},"mark":{"type":"text","fontSize":56,"angle":270,"align":"center","baseline":"alphabetic"},"encoding":{"x":{"field":"x","type":"quantitative"},"y":{"field":"y","type":"quantitative"},"text":{"field":"t","type":"nominal"}}},
 {"data":{"name":"bfl"},"mark":{"type":"rule","color":"#000","strokeWidth":3},"encoding":{"x":{"field":"x","type":"quantitative"},"y":{"field":"y0","type":"quantitative"},"y2":{"field":"y1"}}},
 {"data":{"name":"xt_r"},"mark":{"type":"text","fontSize":54,"align":"left","baseline":"alphabetic"},"encoding":{"x":{"field":"x","type":"quantitative"},"y":{"field":"y","type":"quantitative"},"text":{"field":"t","type":"nominal"}}},
 {"data":{"name":"xt_i"},"mark":{"type":"text","fontSize":54,"fontStyle":"italic","align":"left","baseline":"alphabetic"},"encoding":{"x":{"field":"x","type":"quantitative"},"y":{"field":"y","type":"quantitative"},"text":{"field":"t","type":"nominal"}}},
 {"data":{"name":"ali"},"mark":{"type":"text","font":"Liberation Mono","fontWeight":"bold","fontSize":47,"color":"#a9a9a9","align":"left","baseline":"alphabetic"},"encoding":{"x":{"field":"x","type":"quantitative"},"y":{"field":"y","type":"quantitative"},"text":{"field":"t","type":"nominal"}}},
 {"data":{"name":"xt"},"mark":{"type":"tick","orient":"vertical","thickness":3,"clip":true,"color":"#000","opacity":1},"encoding":{"x":{"field":"v","type":"quantitative"},"y":{"datum":0.453,"type":"quantitative"},"size":{"field":"k","type":"ordinal","scale":{"domain":["M","m"],"range":[44,22]},"legend":null}}},
 {"data":{"name":"xt"},"mark":{"type":"tick","orient":"vertical","thickness":3,"clip":true,"color":"#000","opacity":1},"encoding":{"x":{"field":"v","type":"quantitative"},"y":{"datum":1.605,"type":"quantitative"},"size":{"field":"k","type":"ordinal","legend":null}}},
 {"data":{"name":"yr"},"mark":{"type":"tick","orient":"horizontal","thickness":3,"clip":true,"color":"#000","opacity":1},"encoding":{"y":{"field":"v","type":"quantitative"},"x":{"datum":1.5707963,"type":"quantitative"},"size":{"field":"k","type":"ordinal","legend":null}}},
 {"data":{"name":"yr"},"mark":{"type":"tick","orient":"horizontal","thickness":3,"clip":true,"color":"#000","opacity":1},"encoding":{"y":{"field":"v","type":"quantitative"},"x":{"datum":3.1415927,"type":"quantitative"},"size":{"field":"k","type":"ordinal","legend":null}}}
]},
{"width":741,"height":285,"layer":[
 {"data":{"name":"brm"},"mark":{"type":"rect","color":"#a6d5ea"},"encoding":{"x":{"field":"a","type":"quantitative","scale":{"domain":[1.5707963,3.1415927],"nice":false,"zero":false},"axis":{"title":null,"labels":true,"values":[1.6,1.8,2,2.2,2.4,2.6,2.8,3],"format":"~g","labelPadding":17}},"x2":{"field":"b"},"y":{"field":"s0","type":"quantitative","scale":{"domain":[0.453,1.605],"nice":false,"zero":false},"axis":{"title":null}},"y2":{"field":"s1"}}},
 {"data":{"name":"brh"},"mark":{"type":"rect","color":"#e0e0e0"},"encoding":{"x":{"field":"a","type":"quantitative"},"x2":{"field":"b"},"y":{"field":"s0","type":"quantitative"},"y2":{"field":"s1"}}},
 {"data":{"name":"one"},"mark":{"type":"rule","color":"#000","strokeWidth":3,"strokeDash":[20,13]},"encoding":{"y":{"field":"v","type":"quantitative"}}},
 {"data":{"name":"brm"},"mark":{"type":"rule","color":"#0016ff","strokeWidth":3.6},"encoding":{"x":{"field":"a","type":"quantitative"},"x2":{"field":"b"},"y":{"field":"v","type":"quantitative"}}},
 {"data":{"name":"brm"},"mark":{"type":"rule","color":"#0016ff","strokeWidth":3.6},"encoding":{"x":{"field":"c","type":"quantitative"},"y":{"field":"e0","type":"quantitative"},"y2":{"field":"e1"}}},
 {"data":{"name":"brm"},"mark":{"type":"point","shape":"square","filled":true,"size":300,"opacity":1,"color":"#0016ff"},"encoding":{"x":{"field":"c","type":"quantitative"},"y":{"field":"v","type":"quantitative"}}},
 {"data":{"name":"brh"},"mark":{"type":"rule","color":"#c5352b","strokeWidth":3.6},"encoding":{"x":{"field":"a","type":"quantitative"},"x2":{"field":"b"},"y":{"field":"v","type":"quantitative"}}},
 {"data":{"name":"brh"},"mark":{"type":"rule","color":"#c5352b","strokeWidth":3.6},"encoding":{"x":{"field":"c","type":"quantitative"},"y":{"field":"e0","type":"quantitative"},"y2":{"field":"e1"}}},
 {"data":{"name":"brh"},"mark":{"type":"point","shape":"circle","filled":true,"size":330,"opacity":1,"color":"#c5352b"},"encoding":{"x":{"field":"c","type":"quantitative"},"y":{"field":"v","type":"quantitative"}}},
 {"data":{"name":"xt"},"mark":{"type":"tick","orient":"vertical","thickness":3,"clip":true,"color":"#000","opacity":1},"encoding":{"x":{"field":"v","type":"quantitative"},"y":{"datum":0.453,"type":"quantitative"},"size":{"field":"k","type":"ordinal","scale":{"domain":["M","m"],"range":[44,22]},"legend":null}}},
 {"data":{"name":"xt"},"mark":{"type":"tick","orient":"vertical","thickness":3,"clip":true,"color":"#000","opacity":1},"encoding":{"x":{"field":"v","type":"quantitative"},"y":{"datum":1.605,"type":"quantitative"},"size":{"field":"k","type":"ordinal","legend":null}}},
 {"data":{"name":"yr"},"mark":{"type":"tick","orient":"horizontal","thickness":3,"clip":true,"color":"#000","opacity":1},"encoding":{"y":{"field":"v","type":"quantitative"},"x":{"datum":1.5707963,"type":"quantitative"},"size":{"field":"k","type":"ordinal","legend":null}}},
 {"data":{"name":"yr"},"mark":{"type":"tick","orient":"horizontal","thickness":3,"clip":true,"color":"#000","opacity":1},"encoding":{"y":{"field":"v","type":"quantitative"},"x":{"datum":3.1415927,"type":"quantitative"},"size":{"field":"k","type":"ordinal","legend":null}}}
]}
]
}
